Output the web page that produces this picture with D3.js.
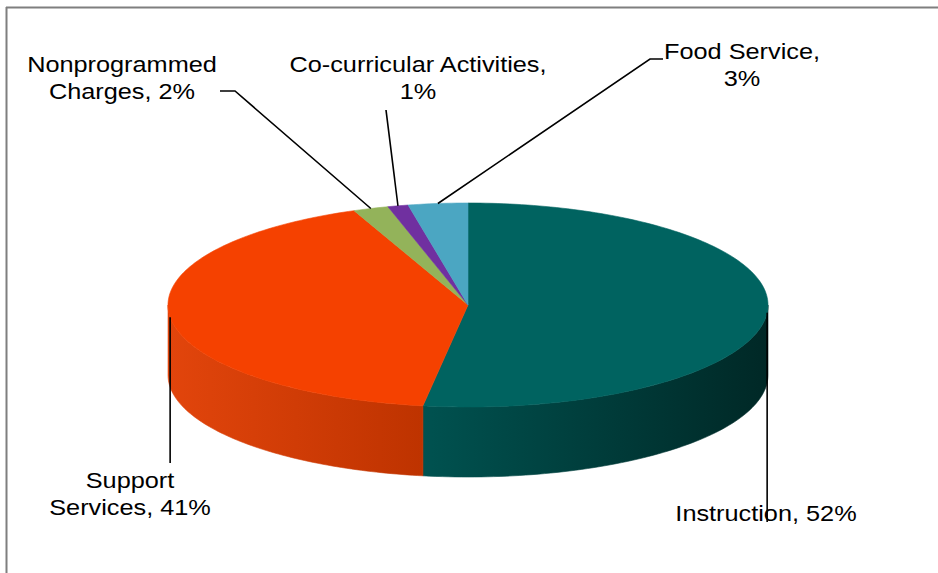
<!DOCTYPE html>
<html>
<head>
<meta charset="utf-8">
<script src="https://cdn.jsdelivr.net/npm/d3@7"></script>
<style>
  html, body { margin: 0; padding: 0; background: #ffffff; }
  svg { display: block; }
  text { font-family: "Liberation Sans", Arial, sans-serif; font-size: 22px; fill: #000; }
</style>
</head>
<body>
<svg id="chart" width="938" height="573"></svg>
<script>
// ---- data ----
const categories = ["Instruction", "Support Services", "Nonprogrammed Charges", "Co-curricular Activities", "Food Service"];
const values = [52.4, 41.4, 1.9, 1.1, 3.2];
const labelLines = [
  ["Instruction, 52%"],
  ["Support", "Services, 41%"],
  ["Nonprogrammed", "Charges, 2%"],
  ["Co-curricular Activities,", "1%"],
  ["Food Service,", "3%"]
];

// ---- styles ----
const topColors = ["#006360", "#F54100", "#93B35A", "#7030A0", "#4BA6C2"];
const sideColors = [["#005250", "#002826"], ["#E2450C", "#BE3300"], ["#7E9C48", "#6A8538"], ["#5C2488", "#4A1A70"], ["#3E90A8", "#2F7A90"]];

const W = 938, H = 573;
const cx = 468, cy = 305, rx = 300, ry = 102, depth = 70;

const svg = d3.select("#chart");

// frame
svg.append("line").attr("x1", 6).attr("y1", 7.5).attr("x2", W).attr("y2", 7.5)
  .attr("stroke", "#7f7f7f").attr("stroke-width", 2);
svg.append("line").attr("x1", 6.5).attr("y1", 7).attr("x2", 6.5).attr("y2", H)
  .attr("stroke", "#7f7f7f").attr("stroke-width", 2);

const pie = d3.pie().sort(null).value(d => d).startAngle(0).endAngle(2 * Math.PI);
const arcs = pie(values);

const px = a => cx + rx * Math.sin(a);
const py = a => cy - ry * Math.cos(a);

const defs = svg.append("defs");
sideColors.forEach((c, i) => {
  const g = defs.append("linearGradient").attr("id", "side" + i)
    .attr("gradientUnits", "userSpaceOnUse")
    .attr("x1", 0).attr("x2", 1).attr("y1", 0).attr("y2", 0);
  // gradient spans the visible side of the slice
  const a0 = Math.max(arcs[i].startAngle, Math.PI / 2), a1 = Math.min(arcs[i].endAngle, 3 * Math.PI / 2);
  let xs = [px(a0), px(a1)];
  if (a1 <= a0) xs = [cx - rx, cx + rx];
  g.attr("x1", Math.min(...xs)).attr("x2", Math.max(...xs));
  // left colour lighter for Support (left end), Instruction darker at right
  g.append("stop").attr("offset", "0%").attr("stop-color", c[0]);
  g.append("stop").attr("offset", "100%").attr("stop-color", c[1]);
});

const line = d3.line();

// sides (front half only)
const sides = svg.append("g");
arcs.forEach((d, i) => {
  const a0 = Math.max(d.startAngle, Math.PI / 2);
  const a1 = Math.min(d.endAngle, 3 * Math.PI / 2);
  if (a1 <= a0) return;
  const n = 80, top = [], bot = [];
  for (let k = 0; k <= n; k++) {
    const a = a0 + (a1 - a0) * k / n;
    top.push([px(a), py(a)]);
    bot.push([px(a), py(a) + depth]);
  }
  const pts = top.concat(bot.reverse());
  sides.append("path").attr("d", line(pts) + "Z")
    .attr("fill", "url(#side" + i + ")")
    .attr("stroke", "url(#side" + i + ")").attr("stroke-width", 0.6);
});

// tops
const tops = svg.append("g");
arcs.forEach((d, i) => {
  const n = Math.max(4, Math.ceil((d.endAngle - d.startAngle) / 0.02));
  const pts = [[cx, cy]];
  for (let k = 0; k <= n; k++) {
    const a = d.startAngle + (d.endAngle - d.startAngle) * k / n;
    pts.push([px(a), py(a)]);
  }
  tops.append("path").attr("d", line(pts) + "Z")
    .attr("fill", topColors[i]).attr("stroke", topColors[i]).attr("stroke-width", 0.6);
});

// leader lines and labels
const labelPos = [
  { x: 766, y: 521, path: m => [[m[0], m[1]], [m[0], 522]] },
  { x: 130, y: 488, path: m => [[m[0], m[1]], [m[0], 463]] },
  { x: 122, y: 72, path: m => [[220, 91], [235, 91], [m[0], m[1]]] },
  { x: 418, y: 72, path: m => [[386, 110], [m[0], m[1]]] },
  { x: 742, y: 59, path: m => [[663, 59], [650, 59], [m[0], m[1]]] }
];
const lineGap = 27;
const sx = 1.15;

const lbl = svg.append("g");
arcs.forEach((d, i) => {
  const mid = (d.startAngle + d.endAngle) / 2;
  const m = [px(mid), py(mid)];
  const p = labelPos[i];
  lbl.append("path").attr("d", line(p.path(m)))
    .attr("fill", "none").attr("stroke", "#000").attr("stroke-width", 1.6);
});
arcs.forEach((d, i) => {
  const p = labelPos[i];
  labelLines[i].forEach((t, j) => {
    lbl.append("text")
      .attr("transform", `translate(${p.x},${p.y + j * lineGap}) scale(${sx},1)`)
      .attr("text-anchor", "middle")
      .text(t);
  });
});
</script>
</body>
</html>
